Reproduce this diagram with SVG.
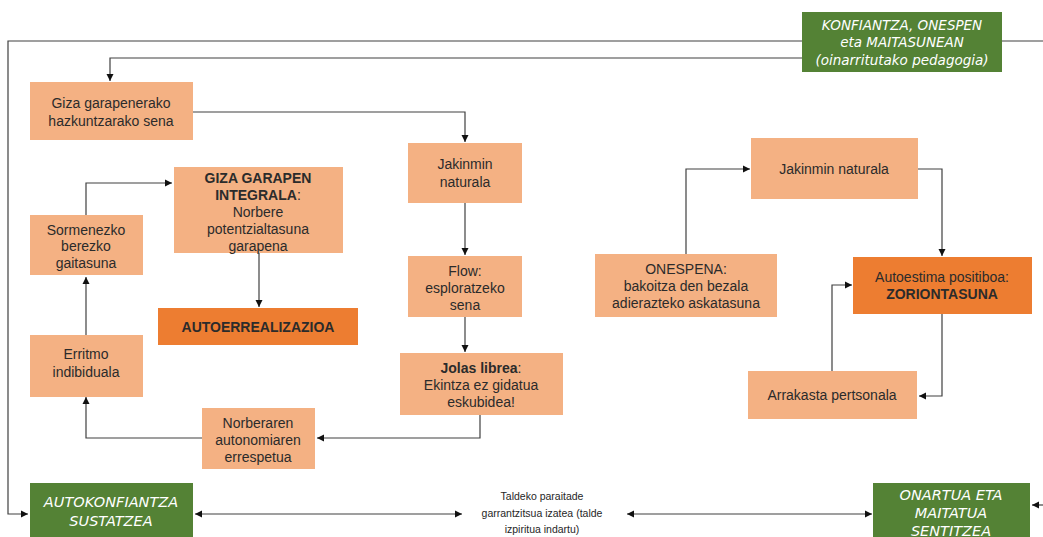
<svg xmlns="http://www.w3.org/2000/svg" width="1043" height="537" viewBox="0 0 1043 537">
<style>
.lb{fill:#F4B183}
.dk{fill:#ED7D31}
.gr{fill:#548235}
.t{font-family:"Liberation Sans",Arial,sans-serif;font-size:14px;fill:#2b2b2b;text-anchor:middle}
.b{font-weight:bold}
.g{font-family:"DejaVu Sans",sans-serif;font-style:italic;fill:#fff;text-anchor:middle}
.s{font-family:"Liberation Sans",Arial,sans-serif;font-size:10.5px;fill:#262626;text-anchor:middle}
.c{fill:none;stroke:#404040;stroke-width:1.2}
</style>
<defs>
<marker id="ah" markerUnits="userSpaceOnUse" markerWidth="8" markerHeight="8" refX="7" refY="4" orient="auto-start-reverse">
<path d="M0,0.5 L7,4 L0,7.5 z" fill="#111"/>
</marker>
</defs>
<rect width="1043" height="537" fill="#fff"/>
<g id="connectors">
<path class="c" d="M802,41 H8 V514 H28" marker-end="url(#ah)"/>
<path class="c" d="M1002,41 H1043"/>
<path class="c" d="M1043,505 H1032" marker-end="url(#ah)"/>
<path class="c" d="M802,58 H110 V81" marker-end="url(#ah)"/>
<path class="c" d="M193,112 H465 V142" marker-end="url(#ah)"/>
<path class="c" d="M465,203 V255" marker-end="url(#ah)"/>
<path class="c" d="M465,317 V352" marker-end="url(#ah)"/>
<path class="c" d="M480,415 V438 H317" marker-end="url(#ah)"/>
<path class="c" d="M202,438 H86 V397" marker-end="url(#ah)"/>
<path class="c" d="M86,335 V277" marker-end="url(#ah)"/>
<path class="c" d="M86,215 V183 H172" marker-end="url(#ah)"/>
<path class="c" d="M259,253 V307" marker-end="url(#ah)"/>
<path class="c" d="M195,514 H462" marker-start="url(#ah)" marker-end="url(#ah)"/>
<path class="c" d="M627,514 H872" marker-start="url(#ah)" marker-end="url(#ah)"/>
<path class="c" d="M686,254 V169 H750" marker-end="url(#ah)"/>
<path class="c" d="M918,169 H942 V256" marker-end="url(#ah)"/>
<path class="c" d="M942,314 V396 H919" marker-end="url(#ah)"/>
<path class="c" d="M832,371 V285 H852" marker-end="url(#ah)"/>
</g>
<g id="top">
<rect class="gr" x="802" y="12" width="200" height="60"/>
<text class="g" font-size="13.5" x="902" y="30">KONFIANTZA, ONESPEN</text>
<text class="g" font-size="13.5" x="902" y="47">eta MAITASUNEAN</text>
<text class="g" font-size="13.5" x="902" y="65">(oinarritutako pedagogia)</text>
</g>
<g id="giza">
<rect class="lb" x="30" y="82" width="163" height="58"/>
<text class="t" x="111" y="108">Giza garapenerako</text>
<text class="t" x="111" y="126">hazkuntzarako sena</text>
</g>
<g id="jakinmin1">
<rect class="lb" x="408" y="143" width="114" height="60"/>
<text class="t" x="465" y="169">Jakinmin</text>
<text class="t" x="465" y="187">naturala</text>
</g>
<g id="flow">
<rect class="lb" x="408" y="256" width="114" height="61"/>
<text class="t" x="465" y="276">Flow:</text>
<text class="t" x="465" y="293">esploratzeko</text>
<text class="t" x="465" y="310">sena</text>
</g>
<g id="jolas">
<rect class="lb" x="400" y="353" width="163" height="62"/>
<text class="t" x="481" y="373"><tspan class="b">Jolas librea</tspan>:</text>
<text class="t" x="481" y="390">Ekintza ez gidatua</text>
<text class="t" x="481" y="407">eskubidea!</text>
</g>
<g id="norberaren">
<rect class="lb" x="202" y="408" width="113" height="61"/>
<text class="t" x="258" y="428">Norberaren</text>
<text class="t" x="258" y="445">autonomiaren</text>
<text class="t" x="258" y="462">errespetua</text>
</g>
<g id="erritmo">
<rect class="lb" x="30" y="335" width="113" height="62"/>
<text class="t" x="86" y="359">Erritmo</text>
<text class="t" x="86" y="377">indibiduala</text>
</g>
<g id="sormenezko">
<rect class="lb" x="30" y="215" width="113" height="60"/>
<text class="t" x="86" y="235">Sormenezko</text>
<text class="t" x="86" y="251">berezko</text>
<text class="t" x="86" y="268">gaitasuna</text>
</g>
<g id="integrala">
<rect class="lb" x="174" y="167" width="169" height="86"/>
<text class="t b" x="258" y="183">GIZA GARAPEN</text>
<text class="t" x="258" y="200"><tspan class="b">INTEGRALA</tspan>:</text>
<text class="t" x="258" y="217">Norbere</text>
<text class="t" x="258" y="234">potentzialtasuna</text>
<text class="t" x="258" y="251">garapena</text>
</g>
<g id="autoerrealizazioa">
<rect class="dk" x="158" y="308" width="200" height="37"/>
<text class="t b" x="258" y="332">AUTOERREALIZAZIOA</text>
</g>
<g id="jakinmin2">
<rect class="lb" x="751" y="138" width="167" height="61"/>
<text class="t" x="834" y="174">Jakinmin naturala</text>
</g>
<g id="onespena">
<rect class="lb" x="595" y="254" width="182" height="63"/>
<text class="t" x="686" y="274">ONESPENA:</text>
<text class="t" x="686" y="291">bakoitza den bezala</text>
<text class="t" x="686" y="308">adierazteko askatasuna</text>
</g>
<g id="zoriontasuna">
<rect class="dk" x="853" y="257" width="179" height="57"/>
<text class="t" x="942" y="282">Autoestima positiboa:</text>
<text class="t b" x="942" y="299">ZORIONTASUNA</text>
</g>
<g id="arrakasta">
<rect class="lb" x="748" y="371" width="169" height="48"/>
<text class="t" x="832" y="400">Arrakasta pertsonala</text>
</g>
<g id="autokonfiantza">
<rect class="gr" x="30" y="483" width="163" height="60"/>
<text class="g" font-size="14.5" x="111" y="507">AUTOKONFIANTZA</text>
<text class="g" font-size="14.5" x="111" y="526">SUSTATZEA</text>
</g>
<g id="taldeko">
<text class="s" x="542" y="500">Taldeko paraitade</text>
<text class="s" x="542" y="517">garrantzitsua izatea (talde</text>
<text class="s" x="542" y="533">izpiritua indartu)</text>
</g>
<g id="onartua">
<rect class="gr" x="873" y="483" width="157" height="60"/>
<text class="g" font-size="14.5" x="951" y="500">ONARTUA ETA</text>
<text class="g" font-size="14.5" x="951" y="518">MAITATUA</text>
<text class="g" font-size="14.5" x="951" y="536">SENTITZEA</text>
</g>
</svg>
